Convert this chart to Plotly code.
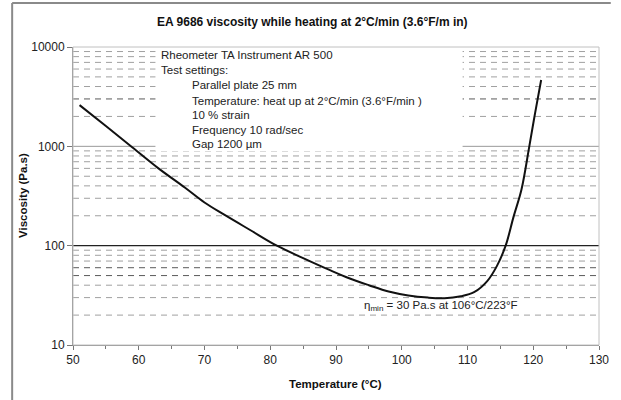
import math
import plotly.graph_objects as go

# ---- data ----
temperature_c = [51, 55, 59, 63, 67, 70, 73, 77, 81, 85, 89, 92, 95, 98, 101, 104,
                 106.5, 109, 111, 113, 114.5, 115.8, 117, 118.2, 119.4, 120.3, 121.2]
viscosity_pas = [2600, 1600, 980, 600, 385, 272, 205, 143, 100, 75, 57, 47, 40, 34.5, 31.5, 30,
                 29.6, 31, 34, 44, 63, 100, 195, 365, 1000, 2200, 4650]

x_ticks = [50, 60, 70, 80, 90, 100, 110, 120, 130]
y_ticks = [10, 100, 1000, 10000]
y_tick_labels = ["10", "100", "1000", "10000"]

title_text = "EA 9686 viscosity while heating at 2°C/min (3.6°F/m in)"
x_title = "Temperature (°C)"
y_title = "Viscosity (Pa.s)"
info_lines_main = ["Rheometer TA Instrument AR 500", "Test settings:"]
info_lines_sub = ["Parallel plate 25 mm",
                  "Temperature: heat up at 2°C/min (3.6°F/min )",
                  "10 % strain",
                  "Frequency 10 rad/sec",
                  "Gap 1200 µm"]
min_note = "η<sub>min</sub> = 30 Pa.s at 106°C/223°F"

# ---- layout geometry ----
W, H = 621, 400
L, R, T, B = 73, 609, 47, 345
FONT = "Liberation Sans, Arial, sans-serif"


def px_x(px):
    return (px - L) / (R - L)


def px_y(py):
    return (B - py) / (B - T)


def log_y(v):
    return (math.log10(v) - 1) / 3.0


fig = go.Figure()
fig.add_trace(go.Scatter(
    x=temperature_c, y=viscosity_pas, mode="lines",
    line=dict(color="#111111", width=2, shape="spline", smoothing=1.0),
    hoverinfo="skip", showlegend=False,
))

shapes = []
dark_minor = {3000, 60, 50}
for dec in [10, 100, 1000]:
    for m in range(2, 10):
        v = dec * m
        col = "#5a5a5a" if v in dark_minor else "#a0a0a0"
        shapes.append(dict(type="line", xref="x domain", yref="y domain",
                           x0=0, x1=1, y0=log_y(v), y1=log_y(v),
                           line=dict(color=col, width=1, dash="6px,5px"), layer="below"))
# major grid
shapes.append(dict(type="line", xref="x domain", yref="y domain", x0=0, x1=1,
                   y0=log_y(1000), y1=log_y(1000),
                   line=dict(color="#999999", width=1), layer="below"))
shapes.append(dict(type="line", xref="x domain", yref="y domain", x0=0, x1=1,
                   y0=log_y(100), y1=log_y(100),
                   line=dict(color="#222222", width=1.3), layer="below"))
# white box behind text block
shapes.append(dict(type="rect", xref="x domain", yref="y domain",
                   x0=px_x(157), x1=px_x(470), y0=px_y(151), y1=1,
                   fillcolor="white", line=dict(width=0), layer="below"))
# plot border (light)
shapes.append(dict(type="rect", xref="x domain", yref="y domain", x0=0, x1=1, y0=0, y1=1,
                   line=dict(color="#c0c0c0", width=1), layer="above"))
# outer frame (top and left visible)
shapes.append(dict(type="line", xref="paper", yref="paper",
                   x0=px_x(11), x1=px_x(621), y0=px_y(3), y1=px_y(3),
                   line=dict(color="#8a8a8a", width=2), layer="above"))
shapes.append(dict(type="line", xref="paper", yref="paper",
                   x0=px_x(11), x1=px_x(11), y0=px_y(3), y1=px_y(400),
                   line=dict(color="#8a8a8a", width=2), layer="above"))

annotations = []
main_y = [55, 70.5]
for txt, yy in zip(info_lines_main, main_y):
    annotations.append(dict(text=txt, xref="paper", yref="paper", x=px_x(161), y=px_y(yy),
                            xanchor="left", yanchor="middle", showarrow=False,
                            font=dict(family=FONT, size=11.5, color="#222")))
sub_y = [85.5, 100.5, 114.5, 129.5, 144]
for txt, yy in zip(info_lines_sub, sub_y):
    annotations.append(dict(text=txt, xref="paper", yref="paper", x=px_x(192), y=px_y(yy),
                            xanchor="left", yanchor="middle", showarrow=False,
                            font=dict(family=FONT, size=11.5, color="#222")))
annotations.append(dict(text=min_note, xref="paper", yref="paper", x=px_x(367), y=px_y(306),
                        xanchor="left", yanchor="middle", showarrow=False,
                        font=dict(family=FONT, size=11.5, color="#222")))
annotations.append(dict(text="<b>" + title_text + "</b>", xref="paper", yref="paper",
                        x=px_x(317), y=px_y(22), xanchor="center", yanchor="middle",
                        showarrow=False, font=dict(family=FONT, size=12, color="#111")))
annotations.append(dict(text="<b>" + x_title + "</b>", xref="paper", yref="paper",
                        x=px_x(340), y=px_y(384), xanchor="center", yanchor="middle",
                        showarrow=False, font=dict(family=FONT, size=11.5, color="#111")))
annotations.append(dict(text="<b>" + y_title + "</b>", xref="paper", yref="paper",
                        x=px_x(22), y=px_y(195), xanchor="center", yanchor="middle",
                        textangle=-90, showarrow=False,
                        font=dict(family=FONT, size=11.5, color="#111")))

fig.update_layout(
    width=W, height=H,
    margin=dict(l=L, r=W - R, t=T, b=H - B, pad=0),
    paper_bgcolor="white", plot_bgcolor="white",
    font=dict(family=FONT, size=12, color="#222"),
    shapes=shapes, annotations=annotations, showlegend=False,
)
fig.update_xaxes(
    range=[50, 130], tickvals=x_ticks, ticks="outside", ticklen=4, tickcolor="#777",
    showgrid=False, zeroline=False, showline=True, linecolor="#888", linewidth=1,
    tickfont=dict(family=FONT, size=12, color="#222"),
    minor=dict(dtick=5, ticks="outside", ticklen=3, tickcolor="#777", showgrid=False),
)
fig.update_yaxes(
    type="log", range=[1, 4], tickvals=y_ticks, ticktext=y_tick_labels,
    ticks="outside", ticklen=5, tickcolor="#777",
    showgrid=False, zeroline=False, showline=True, linecolor="#888", linewidth=1,
    tickfont=dict(family=FONT, size=12, color="#222"),
)

fig.write_html("out.html", config={"displayModeBar": False},
               post_script="document.body.style.margin='0px';document.body.style.padding='0px';")
